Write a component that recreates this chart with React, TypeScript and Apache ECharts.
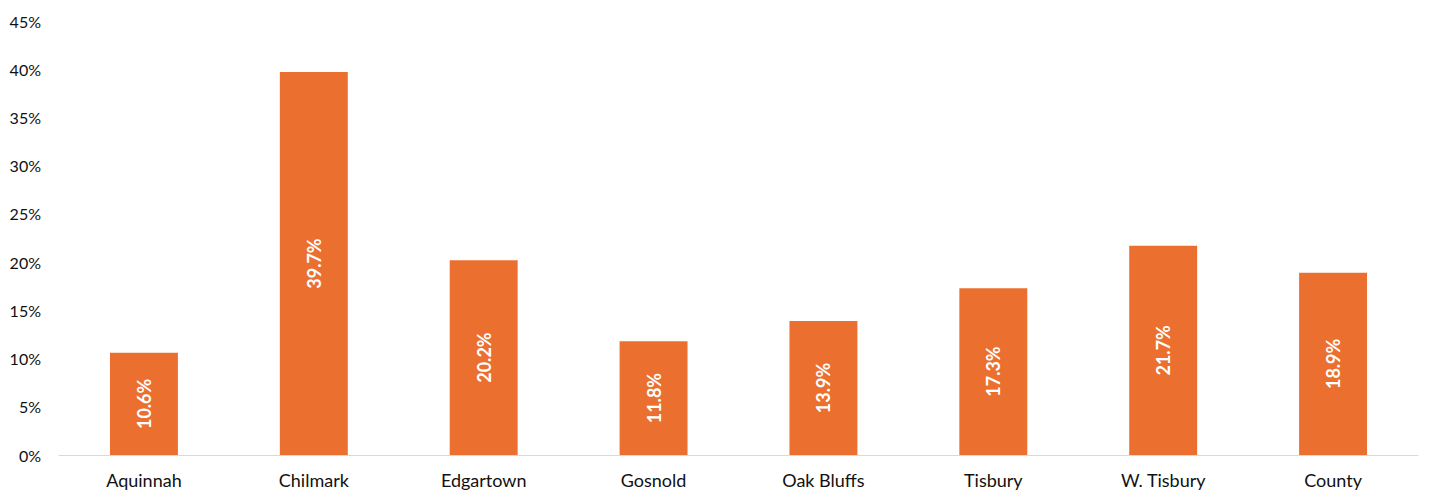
import React, { useEffect, useRef } from "react";
import * as echarts from "echarts";

const categories = ["Aquinnah", "Chilmark", "Edgartown", "Gosnold", "Oak Bluffs", "Tisbury", "W. Tisbury", "County"];
const values = [10.6, 39.7, 20.2, 11.8, 13.9, 17.3, 21.7, 18.9];

export default function App() {
  const ref = useRef<HTMLDivElement>(null);
  useEffect(() => {
    const chart = echarts.init(ref.current!, undefined, { renderer: "svg" });
    chart.setOption({
      animation: false,
      backgroundColor: "#ffffff",
      grid: { left: 59, right: 12, top: 21, bottom: 39, containLabel: false },
      xAxis: {
        type: "category",
        data: categories,
        axisLine: { lineStyle: { color: "#d9d9d9", width: 1 } },
        axisTick: { show: false },
        axisLabel: { color: "#111", fontSize: 18, fontFamily: "Lato", margin: 16 },
      },
      yAxis: {
        type: "value",
        min: 0,
        max: 45,
        interval: 5,
        splitLine: { show: false },
        axisLine: { show: false },
        axisTick: { show: false },
        axisLabel: { color: "#111", fontSize: 16, fontFamily: "Lato", margin: 18, formatter: "{value}%" },
      },
      series: [
        {
          type: "bar",
          data: values,
          barWidth: "40%",
          itemStyle: { color: "#EB7030" },
          label: {
            show: true,
            position: "inside",
            rotate: 90,
            color: "#fff",
            fontWeight: "bold",
            fontSize: 18,
            fontFamily: "Lato",
            formatter: (p: any) => p.value.toFixed(1) + "%",
          },
        },
      ],
    });
    return () => chart.dispose();
  }, []);
  return <div ref={ref} style={{ position: "fixed", left: 0, top: 0, width: 1430, height: 494 }} />;
}
